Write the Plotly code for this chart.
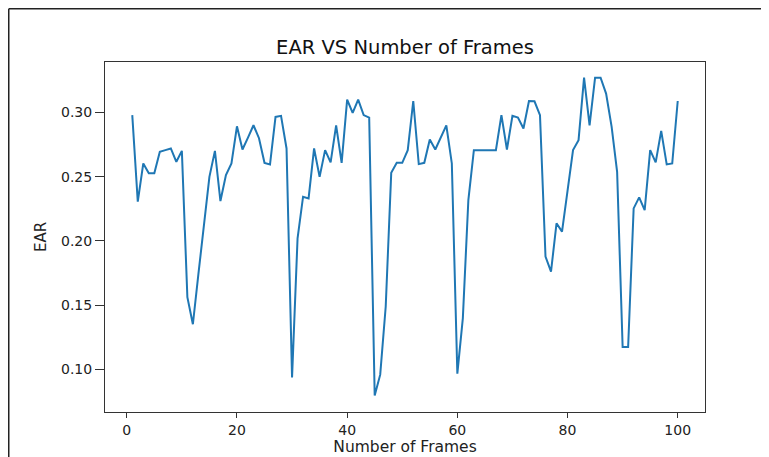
import plotly.graph_objects as go

frames = list(range(1, 101))
ear = [
    0.298, 0.2305, 0.2603, 0.2526, 0.2526, 0.2694, 0.2707, 0.272, 0.2616, 0.2701,
    0.1561, 0.1350, 0.174, 0.2126, 0.2499, 0.2701, 0.2310, 0.2512, 0.2603, 0.2893,
    0.2712, 0.2805, 0.2901, 0.2800, 0.2608, 0.2596, 0.2966, 0.2974, 0.272, 0.0936,
    0.202, 0.2344, 0.2331, 0.272, 0.2499, 0.2707, 0.2612, 0.290, 0.2608, 0.3101,
    0.2997, 0.3101, 0.298, 0.2961, 0.0794, 0.0957, 0.1488, 0.253, 0.2608, 0.2608,
    0.2707, 0.309, 0.2598, 0.2608, 0.279, 0.2712, 0.280, 0.290, 0.2603, 0.0965,
    0.1398, 0.2318, 0.2707, 0.2707, 0.2707, 0.2707, 0.2707, 0.298, 0.2712, 0.2974,
    0.2961, 0.2876, 0.309, 0.3088, 0.298, 0.1877, 0.176, 0.2137, 0.2072, 0.239,
    0.2707, 0.2785, 0.3272, 0.290, 0.3272, 0.3272, 0.3148, 0.289, 0.2538, 0.1173,
    0.1173, 0.2253, 0.2339, 0.224, 0.2707, 0.2612, 0.2857, 0.2596, 0.2603, 0.309,
]

x_ticks = [0, 20, 40, 60, 80, 100]
y_ticks = [0.10, 0.15, 0.20, 0.25, 0.30]
y_tick_text = ["0.10", "0.15", "0.20", "0.25", "0.30"]

title_text = "EAR VS Number of Frames"
x_title = "Number of Frames"
y_title = "EAR"

FONT = "DejaVu Sans"

# page body has an 8px margin; figure sized so that page == 769x457
W, H = 761, 449
L, T, PW, PH = 97, 54, 600, 350

fig = go.Figure()
fig.add_trace(go.Scatter(
    x=frames, y=ear, mode="lines",
    line=dict(color="#1f77b4", width=2),
    showlegend=False,
))

fig.update_layout(
    width=W, height=H, autosize=False,
    margin=dict(l=L, r=W - L - PW, t=T, b=H - T - PH, pad=0),
    paper_bgcolor="white", plot_bgcolor="white",
    font=dict(family=FONT, color="#222"),
    title=dict(text=title_text, x=0.5, xref="paper", xanchor="center",
               y=1 - 39 / H, yref="container", yanchor="middle",
               font=dict(size=19.5, family=FONT, color="#111")),
)

fig.update_xaxes(
    range=[-3.95, 104.95], tickvals=x_ticks, ticktext=[str(v) for v in x_ticks],
    showgrid=False, zeroline=False, automargin=False,
    showline=True, linecolor="#333", linewidth=1, mirror=True,
    ticks="outside", ticklen=5, tickcolor="#333", tickwidth=1,
    tickfont=dict(size=14, family=FONT, color="#222"),
    title=dict(text=x_title, font=dict(size=15.5, family=FONT, color="#222"), standoff=4),
)
fig.update_yaxes(
    range=[0.0666, 0.3394], tickvals=y_ticks, ticktext=y_tick_text,
    showgrid=False, zeroline=False, automargin=False,
    showline=True, linecolor="#333", linewidth=1, mirror=True,
    ticks="outside", ticklen=9, tickcolor="#333", tickwidth=1,
    tickfont=dict(size=14, family=FONT, color="#222"),
    title=dict(text=y_title, font=dict(size=15, family=FONT, color="#222"), standoff=10),
)

# outer screenshot border (top and left edges)
top_y = (PH + T - 0.75) / PH
left_x = (0.75 - L) / PW
fig.add_shape(type="line", xref="paper", yref="paper",
              x0=left_x, x1=(W - L) / PW, y0=top_y, y1=top_y,
              line=dict(color="#222", width=1.5))
fig.add_shape(type="line", xref="paper", yref="paper",
              x0=left_x, x1=left_x, y0=top_y, y1=-(H - T - PH) / PH,
              line=dict(color="#222", width=1.5))

fig.write_html("out.html")
